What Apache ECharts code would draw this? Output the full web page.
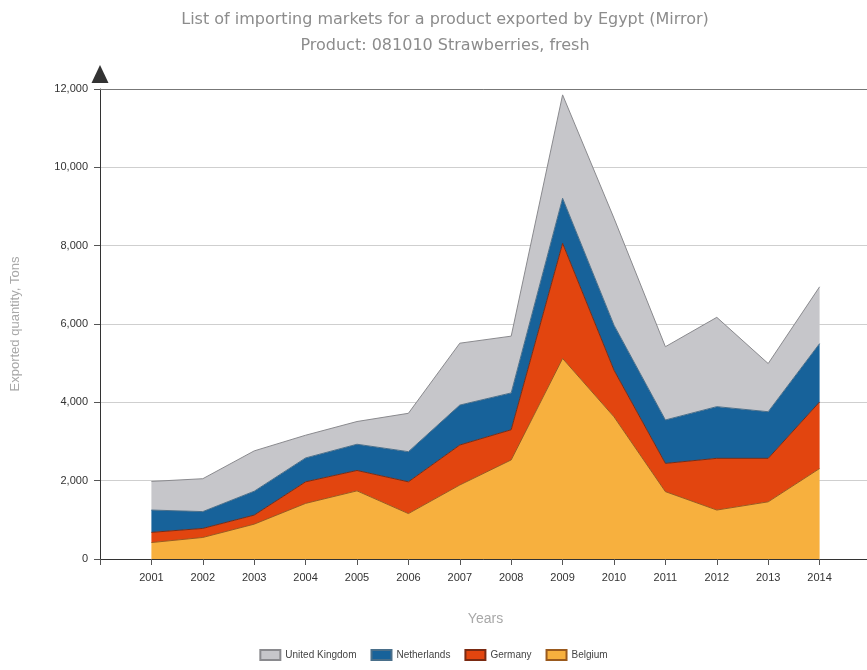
<!DOCTYPE html>
<html>
<head>
<meta charset="utf-8">
<script src="https://cdn.jsdelivr.net/npm/echarts@6/dist/echarts.min.js"></script>
<style>html,body{margin:0;padding:0;background:#fff}#c{width:867px;height:670px}</style>
</head>
<body>
<div id="c"></div>
<script>
const years = ['2001','2002','2003','2004','2005','2006','2007','2008','2009','2010','2011','2012','2013','2014'];
const belgium = [420,550,890,1420,1740,1160,1890,2530,5120,3630,1720,1250,1460,2310];
const germany = [260,230,230,550,520,810,1020,770,2940,1190,720,1320,1110,1700];
const netherlands = [570,430,610,610,670,770,1020,940,1150,1150,1110,1320,1190,1490];
const unitedKingdom = [730,840,1030,580,580,980,1580,1450,2640,2730,1870,2280,1230,1450];
const yTicks = [0,2000,4000,6000,8000,10000,12000];

// padded category list: one empty slot before and after the years
const cats = [''].concat(years, ['']);
const padded = arr => [null].concat(arr, [null]);
const narrow = "'Liberation Sans Narrow', 'Arial Narrow', 'Liberation Sans', sans-serif";

function areaSeries(name, data, fill, line){
  return {
    name, type:'line', stack:'total', data: padded(data),
    symbol:'none', smooth:false, connectNulls:false,
    lineStyle:{color:line, width:1},
    areaStyle:{color:fill, opacity:1},
    itemStyle:{color:fill, borderColor:line, borderWidth:1},
    z:2
  };
}

const chart = echarts.init(document.getElementById('c'));
chart.setOption({
  animation:false,
  backgroundColor:'#fff',
  title:{
    text:'List of importing markets for a product exported by Egypt (Mirror)\nProduct: 081010 Strawberries, fresh',
    left:440, textAlign:'center', top:2,
    textStyle:{color:'#8c8c8c', fontSize:16, fontWeight:'normal', fontFamily:'DejaVu Sans', lineHeight:26}
  },
  legend:{
    bottom:4, left:'center',
    data:['United Kingdom','Netherlands','Germany','Belgium'],
    itemWidth:20, itemHeight:10, itemGap:14,
    icon:'rect',
    textStyle:{color:'#444', fontSize:10, fontFamily:narrow}
  },
  grid:{left:100, top:89, height:470, width:771, outerBoundsMode:'none', containLabel:false},
  xAxis:[{
    type:'category', data:cats, boundaryGap:false,
    name:'Years', nameLocation:'middle', nameGap:53,
    nameTextStyle:{color:'#a8a8a8', fontSize:14, fontFamily:narrow},
    axisLine:{show:true, lineStyle:{color:'#333', width:1}},
    axisTick:{show:true, length:6, interval:0, lineStyle:{color:'#555'}},
    axisLabel:{color:'#333', fontSize:11, fontFamily:narrow, margin:13, interval:0},
    splitLine:{show:false}
  },{
    type:'category', data:cats, boundaryGap:false, position:'top',
    axisLine:{show:true, lineStyle:{color:'#777', width:1}},
    axisTick:{show:false}, axisLabel:{show:false}, splitLine:{show:false}
  }],
  yAxis:{
    type:'value', min:0, max:12000, interval:2000,
    name:'Exported quantity, Tons', nameLocation:'middle', nameGap:78, nameRotate:90,
    nameTextStyle:{color:'#a8a8a8', fontSize:13, fontFamily:"'Liberation Sans', sans-serif"},
    axisLine:{show:true, lineStyle:{color:'#333', width:1}, symbol:['none','triangle'], symbolSize:[17,18], symbolOffset:[0,15]},
    axisTick:{show:true, length:6, lineStyle:{color:'#555'}},
    axisLabel:{color:'#333', fontSize:11, fontFamily:narrow, margin:12,
      formatter: v => yTicks.includes(v) ? v.toLocaleString('en-US') : ''},
    splitLine:{show:true, lineStyle:{color:'#cfcfcf', width:1}}
  },
  series:[
    areaSeries('Belgium', belgium, '#f7b03e', '#9a5a1e'),
    areaSeries('Germany', germany, '#e2450f', '#7a2a12'),
    areaSeries('Netherlands', netherlands, '#17629a', '#4a6f8a'),
    areaSeries('United Kingdom', unitedKingdom, '#c6c6ca', '#8a8a8e')
  ]
});
</script>
</body>
</html>
